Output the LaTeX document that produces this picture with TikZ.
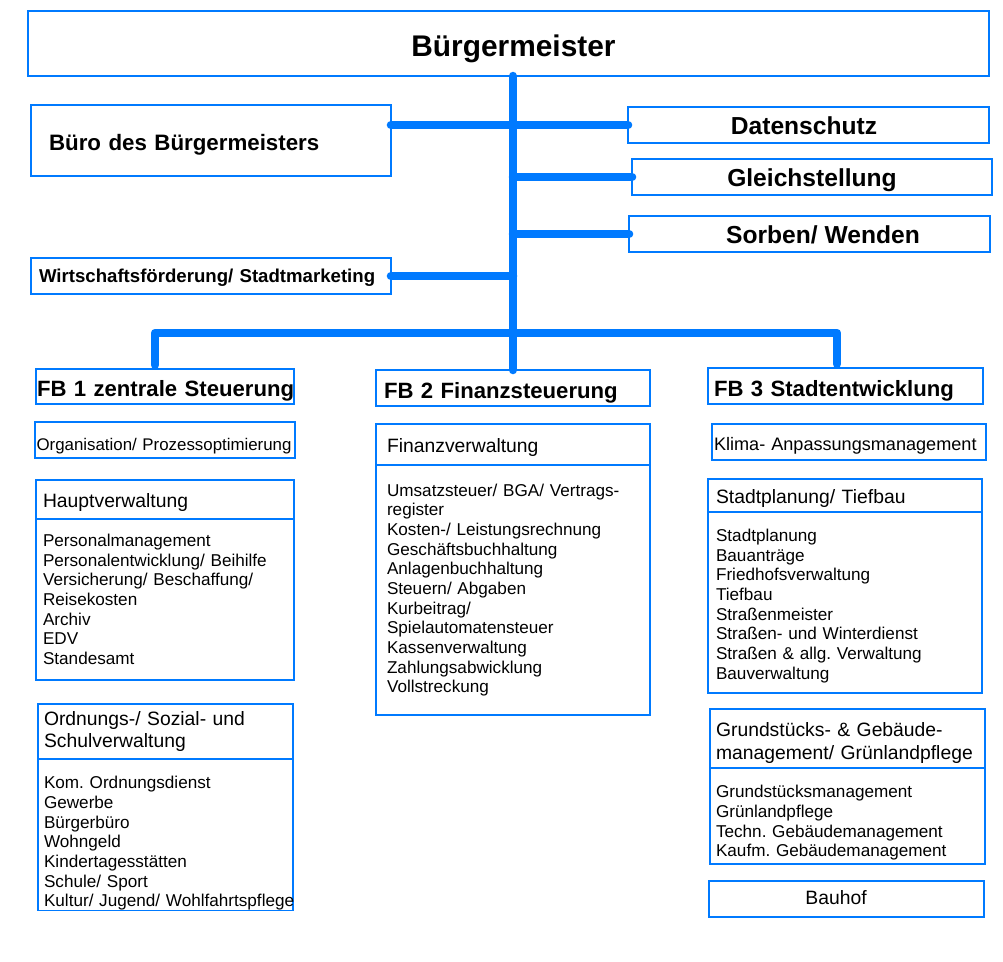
\documentclass[tikz,border=0pt]{standalone}
\usepackage{fontspec}
\setmainfont{Liberation Sans}
\usepackage{tikz}
\usetikzlibrary{positioning}
\frenchspacing
\definecolor{obblue}{RGB}{0, 122, 255}
\tikzset{
    obbox/.style={draw=obblue, line width=1.1pt, inner sep=0pt, outer sep=0pt, minimum height=0.72cm, align=left},
    leitung/.style={draw=obblue, line width=0.17cm, line cap=round, line join=round},
    zeile/.style={text height=#1, text depth=0pt},
    chef/.style={font=\fontsize{17}{20}\selectfont\bfseries, zeile=14.4pt},
    stab/.style={font=\fontsize{14}{17}\selectfont\bfseries, zeile=10.4pt},
    fbtitel/.style={font=\fontsize{12.6}{15}\selectfont\bfseries, zeile=11.8pt},
    kopf/.style={font=\fontsize{11}{13}\selectfont},
    kopfzeile/.style={kopf, zeile=8.9pt},
    liste/.style={font=\fontsize{9.75}{11.2}\selectfont}
}

\begin{document}
\begin{tikzpicture}[x=0.02cm, y=-0.02cm]
    \useasboundingbox (0,0) rectangle (1003,961);
    % Leitung und Stabsstellen
    \node[obbox, chef, minimum width=19.22cm, minimum height=1.3cm] (bm) at (508.5,43.5) {\hspace*{0.2cm}Bürgermeister};
    \node[obbox, font=\fontsize{12.7}{15}\selectfont\bfseries, zeile=11.9pt, text width=6.48cm, inner xsep=0.36cm, minimum height=1.42cm] (buero) at (211,140.5) {Büro des Bürgermeisters};
    \node[obbox, font=\fontsize{10.6}{13}\selectfont\bfseries, zeile=7.6pt, text width=6.88cm, inner xsep=0.16cm] (wirt) at (211,276) {Wirtschaftsförderung/ Stadtmarketing};
    \node[obbox, stab, minimum width=7.22cm] (dat) at (808.5,125) {Datenschutz\hspace*{0.18cm}};
    \node[obbox, stab, minimum width=7.2cm] (gleich) at (812,177) {Gleichstellung};
    \node[obbox, stab, minimum width=7.22cm] (sorben) at (809.5,234) {\hspace*{0.54cm}Sorben/ Wenden};

    % Fachbereiche
    \node[obbox, fbtitel, text width=5.12cm, inner xsep=0.02cm, minimum height=0.7cm] (fb1) at (165,386.5) {\mbox{FB 1 zentrale Steuerung}};
    \node[obbox, fbtitel, text width=5.16cm, inner xsep=0.16cm] (fb2) at (513,388) {FB 2 Finanzsteuerung};
    \node[obbox, fbtitel, text width=5.26cm, inner xsep=0.12cm] (fb3) at (845.5,386) {FB 3 Stadtentwicklung};

    % FB 1
    \node[obbox, font=\fontsize{9.6}{11}\selectfont, zeile=12.5pt, text width=5.14cm, inner xsep=0.03cm] (org) at (165,440) {\mbox{Organisation/ Prozessoptimierung}};
    \node[obbox, kopfzeile, text width=4.88cm, inner xsep=0.14cm, minimum height=0.78cm] (hvkopf) at (165,499.5) {Hauptverwaltung};
    \node[obbox, liste, text width=4.88cm, inner xsep=0.14cm, minimum height=3.22cm, below=0pt of hvkopf] (hvliste) {Personalmanagement\\Personalentwicklung/ Beihilfe\\Versicherung/ Beschaffung/\\Reisekosten\\Archiv\\EDV\\Standesamt};
    \node[obbox, kopf, text width=4.86cm, inner xsep=0.12cm, minimum height=1.1cm] (ovkopf) at (165.5,731.5) {Ordnungs-/ Sozial- und\\Schulverwaltung};
    \node[obbox, liste, text width=4.86cm, inner xsep=0.12cm, minimum height=3.02cm, below=0pt of ovkopf] (ovliste) {\rule{0pt}{17pt}Kom. Ordnungsdienst\\Gewerbe\\Bürgerbüro\\Wohngeld\\Kindertagesstätten\\Schule/ Sport\\\mbox{Kultur/ Jugend/ Wohlfahrtspflege}};

    % FB 2
    \node[obbox, kopfzeile, text width=5.04cm, inner xsep=0.22cm, minimum height=0.82cm] (fvkopf) at (513,444.5) {Finanzverwaltung};
    \node[obbox, liste, text width=5.04cm, inner xsep=0.22cm, minimum height=5cm, below=0pt of fvkopf] (fvliste) {Umsatzsteuer/ BGA/ Vertrags-\\register\\Kosten-/ Leistungsrechnung\\Geschäftsbuchhaltung\\Anlagenbuchhaltung\\Steuern/ Abgaben\\Kurbeitrag/\\Spielautomatensteuer\\Kassenverwaltung\\Zahlungsabwicklung\\Vollstreckung};

    % FB 3
    \node[obbox, font=\fontsize{10.3}{12}\selectfont, zeile=9.8pt, text width=5.4cm, inner xsep=0.04cm] (klima) at (849,442) {\mbox{Klima- Anpassungsmanagement}};
    \node[obbox, kopfzeile, text width=5.16cm, inner xsep=0.16cm, minimum height=0.66cm] (spkopf) at (845,495.5) {Stadtplanung/ Tiefbau};
    \node[obbox, liste, text width=5.16cm, inner xsep=0.16cm, minimum height=3.62cm, below=0pt of spkopf] (spliste) {\rule{0pt}{11pt}Stadtplanung\\Bauanträge\\Friedhofsverwaltung\\Tiefbau\\Straßenmeister\\Straßen- und Winterdienst\\Straßen \& allg. Verwaltung\\Bauverwaltung};
    \node[obbox, kopf, text width=5.26cm, inner xsep=0.12cm, minimum height=1.18cm] (gmkopf) at (847.5,738.5) {\rule{0pt}{12.6pt}Grundstücks- \& Gebäude-\\management/ Grünlandpflege};
    \node[obbox, liste, text width=5.26cm, inner xsep=0.12cm, minimum height=1.92cm, below=0pt of gmkopf] (gmliste) {\rule{0pt}{15pt}Grundstücksmanagement\\Grünlandpflege\\Techn. Gebäudemanagement\\Kaufm. Gebäudemanagement};
    \node[obbox, kopf, zeile=6.6pt, minimum width=5.5cm] (bauhof) at (846.5,899) {Bauhof\hspace*{0.42cm}};

    % Verbindungen
    \coordinate (barl) at (155,333);
    \coordinate (barr) at (837,333);
    \draw[leitung] (bm.south -| fb2.north) -- (fb2.north);
    \draw[leitung] (buero.east |- dat.west) -- (dat.west);
    \draw[leitung] (gleich.west -| fb2.north) -- (gleich.west);
    \draw[leitung] (sorben.west -| fb2.north) -- (sorben.west);
    \draw[leitung] (wirt.east) -- (wirt.east -| fb2.north);
    \draw[leitung, shorten <=0.08cm, shorten >=0.08cm] (barl |- fb1.north) -- (barl) -- (barr) -- (barr |- fb3.north);
\end{tikzpicture}
\end{document}
